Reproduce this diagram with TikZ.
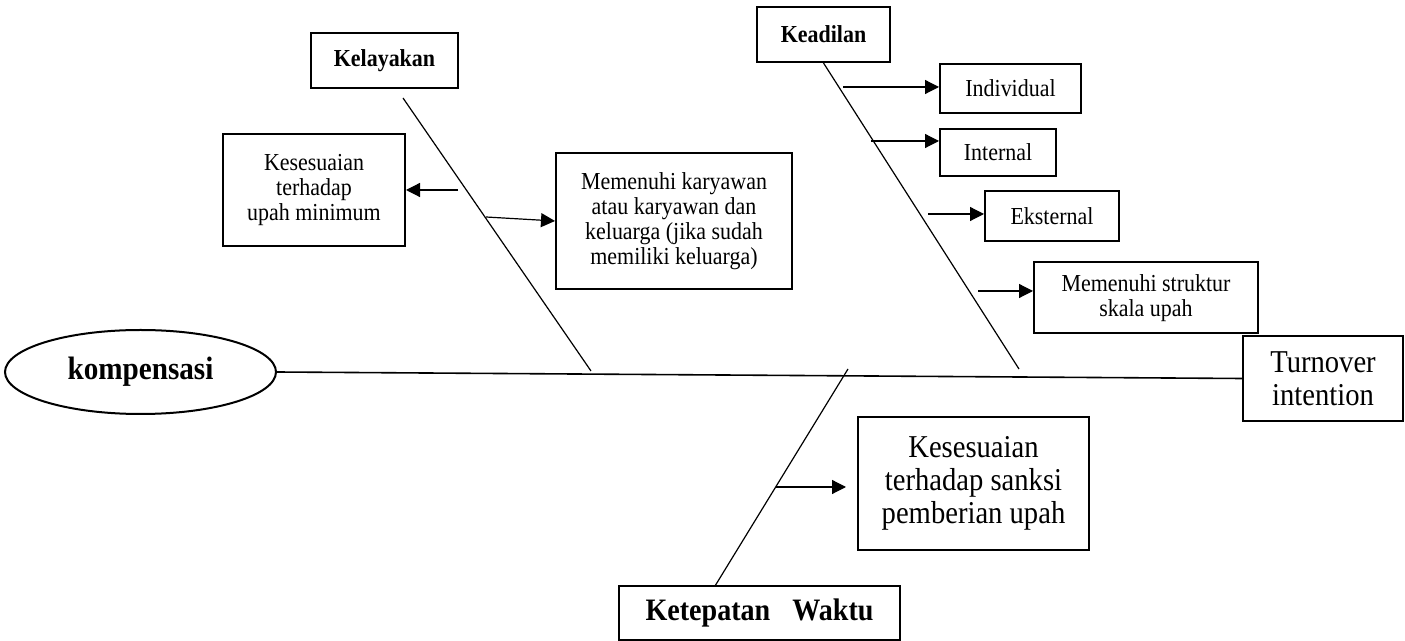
\documentclass[tikz,border=0pt]{standalone}
\usepackage{fontspec}
\setmainfont[FakeStretch=0.9]{Liberation Serif}
\usetikzlibrary{arrows.meta,shapes.geometric,calc}

\begin{document}
\begin{tikzpicture}[
  x=0.5pt, y=-0.5pt,
  box/.style={rectangle, draw, line width=1pt, inner sep=2pt, align=center, font=\fontsize{12.2}{12.5}\selectfont},
  head/.style={box, font=\fontsize{12.2}{13}\selectfont\bfseries},
  bigbox/.style={box, font=\fontsize{15.9}{16.5}\selectfont},
  bone/.style={line width=0.6pt},
  arrow/.style={-{Triangle[length=7pt,width=7pt]}, line width=0.6pt}
]
\useasboundingbox (0,0) rectangle (1405,641);

% head and tail
\node[ellipse, draw, line width=1pt, minimum width=135.5pt, minimum height=42pt, font=\fontsize{16.2}{16}\selectfont\bfseries] (kompensasi) at (140.5,372) {kompensasi};
\node[bigbox, minimum width=80pt, minimum height=42.5pt] (turnover) at (1323,378.5) {Turnover\\intention};

% categories
\node[head, minimum width=73.5pt, minimum height=27.5pt] (kelayakan) at (384.5,60.5) {Kelayakan};
\node[head, minimum width=66.5pt, minimum height=27.5pt] (keadilan) at (823.5,34.5) {Keadilan};
\node[head, font=\fontsize{15.6}{16}\selectfont\bfseries, minimum width=140.5pt, minimum height=27pt] (waktu) at (759.5,613) {Ketepatan\hspace{11pt}Waktu};

% causes
\node[box, minimum width=91pt, minimum height=56pt] (upahmin) at (314,190) {Kesesuaian\\terhadap\\upah minimum};
\node[box, minimum width=118pt, minimum height=68pt] (karyawan) at (674,221) {Memenuhi karyawan\\atau karyawan dan\\keluarga (jika sudah\\memiliki keluarga)};
\node[box, minimum width=70.5pt, minimum height=24.5pt] (individual) at (1010.5,88.5) {Individual};
\node[box, minimum width=58pt, minimum height=23.5pt] (internal) at (998,152.5) {Internal};
\node[box, minimum width=67pt, minimum height=25pt] (eksternal) at (1052,216) {Eksternal};
\node[box, minimum width=112pt, minimum height=35.5pt] (struktur) at (1146,298) {Memenuhi struktur\\skala upah};
\node[bigbox, minimum width=115.5pt, minimum height=66.5pt] (sanksi) at (973.5,483.5) {Kesesuaian\\terhadap sanksi\\pemberian upah};

% bones
\coordinate (k1) at (403,98);
\coordinate (k2) at (591,371);
\coordinate (a2) at (1019,369);
\coordinate (w1) at (715,586);
\coordinate (w2) at (848,369);

\draw[line width=0.8pt] (kompensasi.east) -- (turnover.west);
\draw[bone] (k1) -- (k2);
\draw[bone] (keadilan.south) -- (a2);
\draw[bone] (w1) -- (w2);

% arrows
\coordinate (s-upahmin) at (458,190);
\coordinate (s-karyawan) at (486,217);
\coordinate (s-sanksi) at (776,487);
\draw[arrow] (s-upahmin) -- (upahmin.east);
\draw[arrow] (s-karyawan) -- (karyawan.west);
\draw[arrow, shorten >=5.5pt] (s-sanksi) -- (s-sanksi -| sanksi.west);
\foreach \x/\y/\n in {843/87/individual, 871/141/internal, 928/214/eksternal, 978/291/struktur} {
  \coordinate (s-\n) at (\x,\y);
  \draw[arrow] (s-\n) -- (s-\n -| \n.west);
}

\end{tikzpicture}
\end{document}
